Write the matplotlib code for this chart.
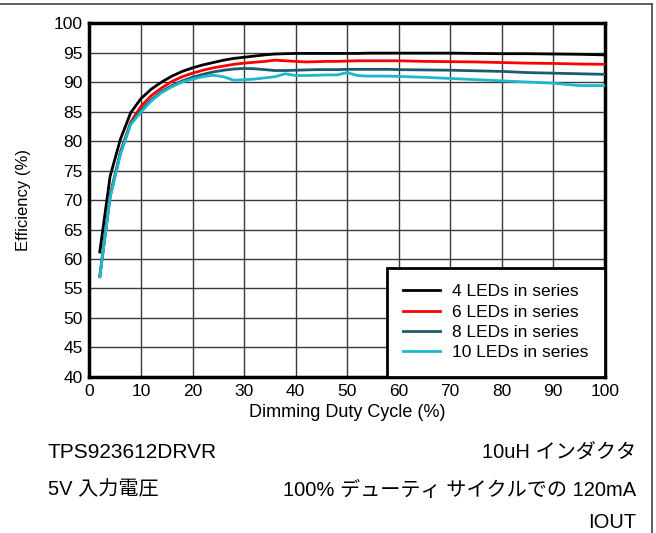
import matplotlib
matplotlib.use("Agg")
import matplotlib.pyplot as plt
from matplotlib.lines import Line2D

plt.rcParams['font.family'] = ['Liberation Sans', 'Noto Sans CJK JP', 'DejaVu Sans']

duty = [2, 4, 6, 8, 10, 12, 14, 16, 18, 20, 22, 24, 26, 28, 30, 32, 34, 36, 38, 40,
        42, 44, 46, 48, 50, 52, 54, 56, 58, 60, 65, 70, 75, 80, 85, 90, 95, 100]

eff_4 = [61.2, 74.0, 80.3, 84.8, 87.2, 88.8, 90.0, 91.0, 91.8, 92.4, 92.9, 93.3, 93.7, 94.0,
         94.2, 94.4, 94.6, 94.75, 94.8, 94.85, 94.85, 94.85, 94.85, 94.85, 94.85, 94.85,
         94.9, 94.9, 94.9, 94.9, 94.9, 94.9, 94.85, 94.8, 94.8, 94.75, 94.7, 94.6]
eff_6 = [57.0, 70.8, 78.1, 83.2, 85.9, 87.7, 89.0, 90.1, 90.9, 91.5, 92.0, 92.4, 92.7, 93.0,
         93.2, 93.35, 93.5, 93.7, 93.6, 93.5, 93.4, 93.45, 93.5, 93.5, 93.55, 93.6,
         93.6, 93.6, 93.6, 93.6, 93.5, 93.45, 93.4, 93.3, 93.2, 93.15, 93.05, 93.0]
eff_8 = [57.0, 70.6, 78.0, 83.0, 85.2, 87.0, 88.4, 89.4, 90.2, 90.8, 91.3, 91.7, 92.0, 92.2,
         92.3, 92.25, 92.1, 91.95, 91.95, 92.0, 92.05, 92.1, 92.1, 92.1, 92.15, 92.15,
         92.15, 92.15, 92.15, 92.1, 92.05, 92.0, 91.9, 91.8, 91.6, 91.5, 91.4, 91.3]
eff_10 = [57.0, 70.4, 77.7, 82.8, 84.9, 86.8, 88.2, 89.2, 90.0, 90.5, 90.9, 91.15, 90.9, 90.3,
          90.4, 90.5, 90.7, 90.9, 91.4, 91.1, 91.1, 91.15, 91.2, 91.2, 91.6, 91.1,
          91.0, 91.0, 91.0, 90.95, 90.8, 90.6, 90.4, 90.2, 90.0, 89.8, 89.4, 89.4]

series_labels = ["4 LEDs in series", "6 LEDs in series", "8 LEDs in series", "10 LEDs in series"]
series_colors = ["#000000", "#ff0000", "#1b5b6e", "#1cb9cc"]

x_ticks = [0, 10, 20, 30, 40, 50, 60, 70, 80, 90, 100]
y_ticks = [40, 45, 50, 55, 60, 65, 70, 75, 80, 85, 90, 95, 100]

fig = plt.figure(figsize=(6.56, 5.33), dpi=100)
ax = fig.add_axes([0.1364, 0.2927, 0.922 - 0.1364, 0.9568 - 0.2927])

for ys, lab, col in zip([eff_4, eff_6, eff_8, eff_10], series_labels, series_colors):
    ax.plot(duty, ys, color=col, lw=2, label=lab, zorder=3)

ax.set_xlim(0, 100)
ax.set_ylim(40, 100)
ax.set_xticks(x_ticks)
ax.set_yticks(y_ticks)
ax.tick_params(length=0, labelsize=12.5, pad=5)
ax.grid(True, color="#3a3a3a", lw=1)
ax.set_axisbelow(True)
for s in ax.spines.values():
    s.set_linewidth(2.5)
    s.set_color("black")

ax.set_xlabel("Dimming Duty Cycle (%)", fontsize=13, labelpad=4)
ax.set_ylabel("Efficiency (%)", fontsize=12, labelpad=16)

leg = ax.legend(loc="lower right", fontsize=12.5, frameon=True, fancybox=False,
                borderaxespad=0, handlelength=2.1, labelspacing=0.3,
                borderpad=0.95, handletextpad=0.7)
leg.get_frame().set_edgecolor("black")
leg.get_frame().set_linewidth(2)
leg.get_frame().set_alpha(1)

# outer border (top and right)
fig.add_artist(Line2D([0, 652 / 656], [1 - 4 / 533, 1 - 4 / 533], transform=fig.transFigure,
                      color="#444444", lw=1.2))
fig.add_artist(Line2D([652 / 656, 652 / 656], [0, 1 - 4 / 533], transform=fig.transFigure,
                      color="#444444", lw=1.2))

fs = 14.5
fig.text(48 / 656, 1 - 452 / 533, "TPS923612DRVR", fontsize=15, va="center", ha="left")
fig.text(636 / 656, 1 - 452 / 533, "10uH インダクタ", fontsize=fs, va="center", ha="right")
fig.text(48 / 656, 1 - 490 / 533, "5V 入力電圧", fontsize=fs, va="center", ha="left")
fig.text(636 / 656, 1 - 490 / 533, "100% デューティ サイクルでの 120mA", fontsize=fs,
         va="center", ha="right")
fig.text(636 / 656, 1 - 522 / 533, "IOUT", fontsize=fs, va="center", ha="right")

fig.savefig("out.png", dpi=100)
